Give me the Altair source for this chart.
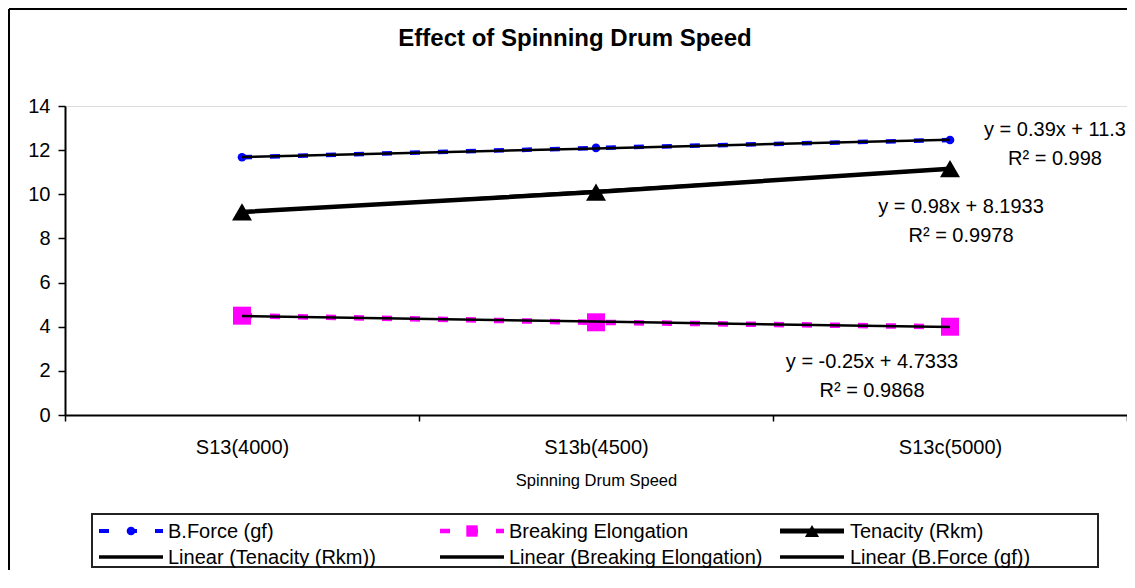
import altair as alt
import pandas as pd

FONT = "Liberation Sans"

# ---------------- data ----------------
categories = ["S13(4000)", "S13b(4500)", "S13c(5000)"]
bforce = [11.68, 12.10, 12.46]
elongation = [4.50, 4.20, 4.00]
tenacity = [9.20, 10.10, 11.16]

# printed trendline equations (y = slope * x + intercept, x = 1..3)
trend_names = ["Linear (Tenacity (Rkm))", "Linear (Breaking Elongation)", "Linear (B.Force (gf))"]
trend_slopes = [0.98, -0.25, 0.39]
trend_intercepts = [8.1933, 4.7333, 11.3]
eq_labels = ["y = 0.98x + 8.1933", "y = -0.25x + 4.7333", "y = 0.39x + 11.3"]
r2_labels = ["R² = 0.9978", "R² = 0.9868", "R² = 0.998"]

series_labels = ["B.Force (gf)", "Breaking Elongation", "Tenacity (Rkm)"]
y_ticks = [0, 2, 4, 6, 8, 10, 12, 14]

title_text = "Effect of Spinning Drum Speed"
x_title = "Spinning Drum Speed"

W, H = 1062, 309
PAD_L, PAD_T, PAD_R, PAD_B = 57, 98, 0, 155

def series_df(vals):
    return pd.DataFrame({"cat": categories, "v": vals})

def trend_df(slope, intercept):
    return pd.DataFrame({"cat": categories,
                         "v": [slope * (i + 1) + intercept for i in range(len(categories))]})

x_enc = alt.X("cat:N", sort=categories,
              scale=alt.Scale(type="band", domain=categories, paddingInner=0, paddingOuter=0),
              bandPosition=0.5,
              axis=alt.Axis(title=x_title, tickBand="extent", labelAngle=0, labelFont=FONT,
                            labelFontSize=20, labelColor="black", labelPadding=16,
                            tickSize=6, tickColor="black", tickWidth=1.5,
                            domainColor="black", domainWidth=2, grid=False,
                            titleFont=FONT, titleFontSize=16.5, titleFontWeight="normal",
                            titleColor="black", titlePadding=15))
y_enc = alt.Y("v:Q", scale=alt.Scale(domain=[0, 14], nice=False, zero=True),
              axis=alt.Axis(values=y_ticks, title=None, labelFont=FONT, labelFontSize=20,
                            labelColor="black", labelPadding=8, tickSize=7,
                            tickColor="black", tickWidth=1.5, domainColor="black",
                            domainWidth=2, grid=False))

one = alt.Data(values=[{}])

layers = []

# outer chart border (only top and left edges fall inside the picture)
layers.append(alt.Chart(one).mark_rule(color="black", strokeWidth=2).encode(
    x=alt.value(-56), x2=alt.value(W + PAD_R), y=alt.value(-97)))
layers.append(alt.Chart(one).mark_rule(color="black", strokeWidth=2).encode(
    x=alt.value(-56), y=alt.value(-97), y2=alt.value(H + PAD_B)))

# chart title
layers.append(alt.Chart(one).mark_text(text=title_text, font=FONT, fontSize=24, fontWeight="bold",
                                       color="black", align="center", baseline="alphabetic").encode(
    x=alt.value(510), y=alt.value(-60)))

# series lines
BLUE = "#0000FF"
MAG = "#FF00FF"
layers.append(alt.Chart(series_df(bforce)).mark_line(color=BLUE, strokeWidth=4.5, strokeDash=[10, 18]).encode(x=x_enc, y=y_enc))
layers.append(alt.Chart(series_df(elongation)).mark_line(color=MAG, strokeWidth=5.5, strokeDash=[10, 18]).encode(x=x_enc, y=y_enc))
layers.append(alt.Chart(series_df(tenacity)).mark_line(color="black", strokeWidth=4.5).encode(x=x_enc, y=y_enc))

# markers
layers.append(alt.Chart(series_df(bforce)).mark_point(shape="circle", filled=True, size=75, color=BLUE, opacity=1).encode(x=x_enc, y=y_enc))
layers.append(alt.Chart(series_df(elongation)).mark_point(shape="square", filled=True, size=324, color=MAG, opacity=1).encode(x=x_enc, y=y_enc))
layers.append(alt.Chart(series_df(tenacity)).mark_point(shape="triangle-up", filled=True, size=400, color="black", opacity=1).encode(x=x_enc, y=y_enc))

# trendlines
for s, b in zip(trend_slopes, trend_intercepts):
    layers.append(alt.Chart(trend_df(s, b)).mark_line(color="black", strokeWidth=2.5).encode(x=x_enc, y=y_enc))

# equation annotations (tenacity, elongation, bforce)
eq_pos = [(896, 107, 136), (807, 262, 291), (990, 30, 59)]
for (cx, y1, y2), eq, r2 in zip(eq_pos, eq_labels, r2_labels):
    layers.append(alt.Chart(one).mark_text(text=eq, font=FONT, fontSize=20, color="black",
                                           align="center", baseline="alphabetic").encode(
        x=alt.value(cx), y=alt.value(y1)))
    layers.append(alt.Chart(one).mark_text(text=r2, font=FONT, fontSize=20, color="black",
                                           align="center", baseline="alphabetic").encode(
        x=alt.value(cx), y=alt.value(y2)))

# ---------- legend ----------
layers.append(alt.Chart(one).mark_rect(fillOpacity=0, stroke="#222222", strokeWidth=2).encode(
    x=alt.value(27), x2=alt.value(1033), y=alt.value(408), y2=alt.value(461)))

col_sym = [34, 375, 715]
col_txt = [103, 444, 785]
row_y = [425, 451]
row_base = [432, 458]
SYM_W = 64

# row 1 symbols
layers.append(alt.Chart(one).mark_rule(color=BLUE, strokeWidth=4, strokeDash=[10, 18]).encode(
    x=alt.value(col_sym[0]), x2=alt.value(col_sym[0] + SYM_W), y=alt.value(row_y[0])))
layers.append(alt.Chart(one).mark_point(shape="circle", filled=True, size=75, color=BLUE, opacity=1).encode(
    x=alt.value(col_sym[0] + SYM_W / 2), y=alt.value(row_y[0])))
layers.append(alt.Chart(one).mark_rule(color=MAG, strokeWidth=4.5, strokeDash=[10, 18]).encode(
    x=alt.value(col_sym[1]), x2=alt.value(col_sym[1] + SYM_W), y=alt.value(row_y[0])))
layers.append(alt.Chart(one).mark_point(shape="square", filled=True, size=130, color=MAG, opacity=1).encode(
    x=alt.value(col_sym[1] + SYM_W / 2), y=alt.value(row_y[0])))
layers.append(alt.Chart(one).mark_rule(color="black", strokeWidth=5).encode(
    x=alt.value(col_sym[2]), x2=alt.value(col_sym[2] + SYM_W), y=alt.value(row_y[0])))
layers.append(alt.Chart(one).mark_point(shape="triangle-up", filled=True, size=200, color="black", opacity=1).encode(
    x=alt.value(col_sym[2] + SYM_W / 2), y=alt.value(row_y[0])))

# row 2 symbols
for c in range(3):
    layers.append(alt.Chart(one).mark_rule(color="black", strokeWidth=3.5).encode(
        x=alt.value(col_sym[c]), x2=alt.value(col_sym[c] + SYM_W), y=alt.value(row_y[1])))

legend_entries = series_labels + trend_names
for i, lab in enumerate(legend_entries):
    r, c = divmod(i, 3)
    layers.append(alt.Chart(one).mark_text(text=lab, font=FONT, fontSize=20, color="black",
                                           align="left", baseline="alphabetic").encode(
        x=alt.value(col_txt[c]), y=alt.value(row_base[r])))

chart = alt.layer(*layers).properties(
    width=W, height=H,
    autosize=alt.AutoSizeParams(type="none"),
    padding={"left": PAD_L, "top": PAD_T, "right": PAD_R, "bottom": PAD_B},
).configure_view(stroke="#808080", strokeWidth=1.5).configure(background="white")

chart.save("out.html", embed_options={"renderer": "svg", "actions": False})
